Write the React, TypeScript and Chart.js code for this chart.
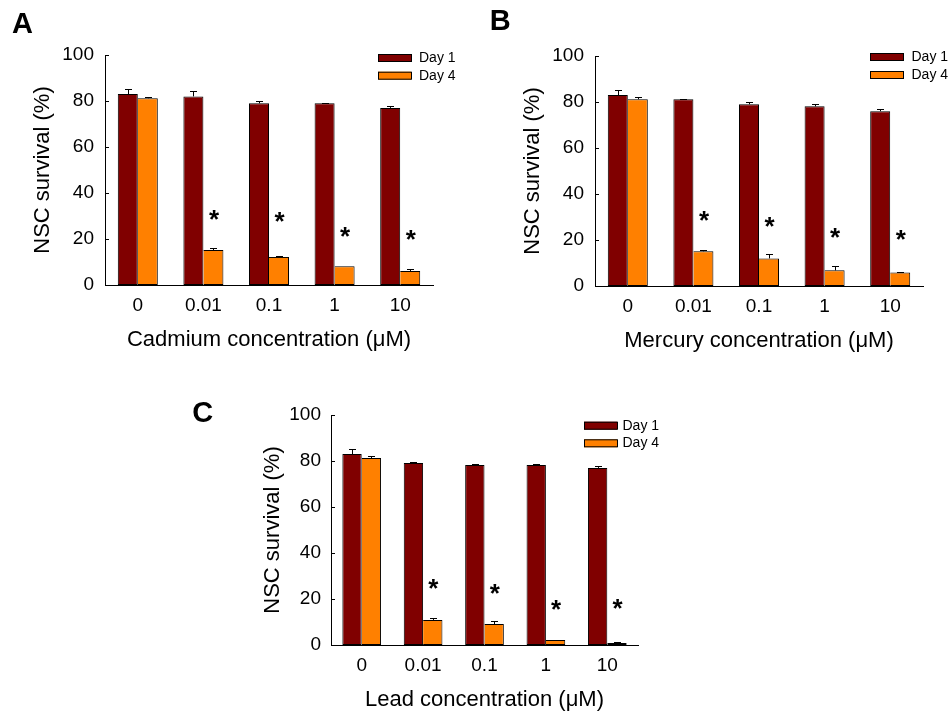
import React, { useEffect, useRef } from 'react';
import { Chart, registerables } from 'chart.js';

Chart.register(...registerables);

// ---------------- Data ----------------
const categories = ['0', '0.01', '0.1', '1', '10'];
const seriesNames = ['Day 1', 'Day 4'];
const yTickValues = [0, 20, 40, 60, 80, 100];
const yAxisTitle = 'NSC survival (%)';

const cadmiumDay1 = [83, 82, 79, 79, 77];
const cadmiumDay1Err = [2.2, 2.3, 0.9, 0.3, 0.8];
const cadmiumDay4 = [81.2, 15.2, 12.2, 8.2, 6.1];
const cadmiumDay4Err = [0.7, 0.9, 0.3, 0, 0.8];
const cadmiumStars = [null, 30.6, 29.7, 23.2, 21.9];

const mercuryDay1 = [83, 81.2, 79, 78.1, 76];
const mercuryDay1Err = [2.2, 0.3, 0.9, 0.9, 0.9];
const mercuryDay4 = [81.2, 15.1, 12, 6.8, 5.9];
const mercuryDay4Err = [0.9, 0.4, 1.9, 1.8, 0.4];
const mercuryStars = [null, 30.4, 28, 22.9, 22.2];

const leadDay1 = [83, 79.1, 78.3, 78.3, 77];
const leadDay1Err = [2.2, 0.3, 0.3, 0.3, 0.8];
const leadDay4 = [81.3, 10.9, 9.1, 2.2, 0.9];
const leadDay4Err = [0.9, 0.8, 1.5, 0, 0.4];
const leadStars = [null, 26.7, 24.3, 17.5, 18.0];

// ---------------- Styles / layout ----------------
const FONT = "Arial, 'Liberation Sans', Helvetica, sans-serif";
const W = 951;
const H = 715;
const DAY1_COLOR = '#800000';
const DAY4_COLOR = '#FF8000';
const Y_W = 80;
const X_H = 70;

type Panel = {
  letter: string;
  letterPos: [number, number];
  xTitle: string;
  day1: number[];
  day1Err: number[];
  day4: number[];
  day4Err: number[];
  stars: (number | null)[];
  area: { l: number; r: number; t: number; b: number };
  yTitleOffset: number;
  yTickPad: number;
  catPct: number;
  legend: { x: number; y: number; textX: number; gap: number };
};

const panels: Panel[] = [
  {
    letter: 'A',
    letterPos: [12, 13],
    xTitle: 'Cadmium concentration (\u03bcM)',
    day1: cadmiumDay1,
    day1Err: cadmiumDay1Err,
    day4: cadmiumDay4,
    day4Err: cadmiumDay4Err,
    stars: cadmiumStars,
    area: { l: 105, r: 433, t: 55, b: 285 },
    yTitleOffset: 62,
    yTickPad: 11,
    catPct: 0.61,
    legend: { x: 378, y: 54, textX: 419, gap: 17.7 },
  },
  {
    letter: 'B',
    letterPos: [490.7, 10],
    xTitle: 'Mercury concentration (\u03bcM)',
    day1: mercuryDay1,
    day1Err: mercuryDay1Err,
    day4: mercuryDay4,
    day4Err: mercuryDay4Err,
    stars: mercuryStars,
    area: { l: 595, r: 923, t: 56, b: 286 },
    yTitleOffset: 62,
    yTickPad: 11,
    catPct: 0.61,
    legend: { x: 870, y: 53, textX: 911.5, gap: 18 },
  },
  {
    letter: 'C',
    letterPos: [193.3, 401.7],
    xTitle: 'Lead concentration (\u03bcM)',
    day1: leadDay1,
    day1Err: leadDay1Err,
    day4: leadDay4,
    day4Err: leadDay4Err,
    stars: leadStars,
    area: { l: 331, r: 638, t: 415, b: 645 },
    yTitleOffset: 58.4,
    yTickPad: 10,
    catPct: 0.63,
    legend: { x: 584, y: 421.7, textX: 622.5, gap: 17.6 },
  },
];

function makePlugin(panel: Panel) {
  return {
    id: 'panelExtras' + panel.letter,
    afterDatasetsDraw(chart: any) {
      const ctx = chart.ctx as CanvasRenderingContext2D;
      const yScale = chart.scales.y;
      ctx.save();
      ctx.strokeStyle = '#000';
      ctx.lineWidth = 1;
      const errs = [panel.day1Err, panel.day4Err];
      const vals = [panel.day1, panel.day4];
      for (let d = 0; d < 2; d++) {
        const meta = chart.getDatasetMeta(d);
        meta.data.forEach((el: any, i: number) => {
          const e = errs[d][i];
          if (!e) return;
          const x = Math.round(el.x) + 0.5;
          const yTop = Math.round(yScale.getPixelForValue(vals[d][i] + e)) + 0.5;
          const yBar = el.y;
          ctx.beginPath();
          ctx.moveTo(x, yBar);
          ctx.lineTo(x, yTop);
          ctx.moveTo(x - 3.5, yTop);
          ctx.lineTo(x + 3.5, yTop);
          ctx.stroke();
        });
      }
      // asterisks above Day 4 bars
      ctx.fillStyle = '#000';
      ctx.font = `bold 26px ${FONT}`;
      ctx.textAlign = 'left';
      ctx.textBaseline = 'alphabetic';
      const m = ctx.measureText('*');
      const meta4 = chart.getDatasetMeta(1);
      panel.stars.forEach((s, i) => {
        if (s == null) return;
        const el: any = meta4.data[i];
        const cx = el.x + 1;
        const cy = yScale.getPixelForValue(s);
        const dx = cx - (m.actualBoundingBoxRight - m.actualBoundingBoxLeft) / 2 + m.actualBoundingBoxLeft;
        const dy = cy + (m.actualBoundingBoxAscent - m.actualBoundingBoxDescent) / 2;
        ctx.fillText('*', dx, dy);
      });
      ctx.restore();
    },
    afterDraw(chart: any) {
      const ctx = chart.ctx as CanvasRenderingContext2D;
      const yScale = chart.scales.y;
      const area = chart.chartArea;
      ctx.save();
      // inward y ticks
      ctx.strokeStyle = '#000';
      ctx.lineWidth = 1;
      yTickValues.forEach((v) => {
        const y = Math.round(yScale.getPixelForValue(v)) + 0.5;
        ctx.beginPath();
        ctx.moveTo(area.left, y);
        ctx.lineTo(area.left + 4, y);
        ctx.stroke();
      });
      // legend
      const lg = panel.legend;
      const colors = [DAY1_COLOR, DAY4_COLOR];
      ctx.font = `14px ${FONT}`;
      ctx.textBaseline = 'middle';
      ctx.textAlign = 'left';
      seriesNames.forEach((name, i) => {
        const top = lg.y + i * lg.gap;
        ctx.fillStyle = colors[i];
        ctx.fillRect(lg.x, top, 33, 8);
        ctx.strokeStyle = '#000';
        ctx.strokeRect(lg.x + 0.5, top + 0.5, 33, 7);
        ctx.fillStyle = '#000';
        ctx.fillText(name, lg.textX, top + 4);
      });
      // panel letter
      ctx.font = `bold 29px ${FONT}`;
      ctx.textBaseline = 'alphabetic';
      const lm = ctx.measureText(panel.letter);
      ctx.fillText(
        panel.letter,
        panel.letterPos[0] + lm.actualBoundingBoxLeft,
        panel.letterPos[1] + lm.actualBoundingBoxAscent
      );
      ctx.restore();
    },
  };
}

function PanelChart({ panel }: { panel: Panel }) {
  const ref = useRef<HTMLCanvasElement>(null);
  useEffect(() => {
    const a = panel.area;
    const chart = new Chart(ref.current as HTMLCanvasElement, {
      type: 'bar',
      data: {
        labels: categories,
        datasets: [
          {
            label: seriesNames[0],
            data: panel.day1,
            backgroundColor: DAY1_COLOR,
            borderColor: '#000',
            borderWidth: 1,
            borderSkipped: false,
            barPercentage: 1,
            categoryPercentage: panel.catPct,
          },
          {
            label: seriesNames[1],
            data: panel.day4,
            backgroundColor: DAY4_COLOR,
            borderColor: '#000',
            borderWidth: { top: 1, right: 1, bottom: 1, left: 0 },
            borderSkipped: false,
            barPercentage: 1,
            categoryPercentage: panel.catPct,
          },
        ],
      },
      options: {
        responsive: false,
        animation: false,
        devicePixelRatio: 1,
        events: [],
        layout: {
          padding: {
            left: a.l - Y_W,
            top: a.t,
            right: W - a.r,
            bottom: H - a.b - X_H,
          },
        },
        plugins: {
          legend: { display: false },
          tooltip: { enabled: false },
          title: { display: false },
        },
        scales: {
          x: {
            type: 'category',
            grid: { display: false, drawTicks: false },
            border: { display: true, color: '#000', width: 1 },
            ticks: {
              color: '#000',
              font: { family: FONT, size: 19 },
              padding: 9,
              maxRotation: 0,
              autoSkip: false,
            },
            title: {
              display: true,
              text: panel.xTitle,
              color: '#000',
              font: { family: FONT, size: 22 },
              padding: { top: 0, bottom: 1.5 },
            },
            afterFit: (s: any) => {
              s.height = X_H;
            },
          },
          y: {
            type: 'linear',
            min: 0,
            max: 100,
            grid: { display: false, drawTicks: false },
            border: { display: true, color: '#000', width: 1 },
            ticks: {
              stepSize: 20,
              color: '#000',
              font: { family: FONT, size: 19 },
              padding: panel.yTickPad,
            },
            title: {
              display: true,
              text: yAxisTitle,
              color: '#000',
              font: { family: FONT, size: 22 },
              padding: { top: Y_W - panel.yTitleOffset - 13.2, bottom: 0 },
            },
            afterFit: (s: any) => {
              s.width = Y_W;
            },
          },
        },
      },
      plugins: [makePlugin(panel)],
    } as any);
    return () => chart.destroy();
  }, [panel]);
  return (
    <canvas
      ref={ref}
      width={W}
      height={H}
      style={{ position: 'absolute', left: 0, top: 0, width: W, height: H }}
    />
  );
}

export default function App() {
  return (
    <div
      style={{
        position: 'fixed',
        left: 0,
        top: 0,
        width: W,
        height: H,
        background: '#ffffff',
        overflow: 'hidden',
      }}
    >
      {panels.map((p) => (
        <PanelChart key={p.letter} panel={p} />
      ))}
    </div>
  );
}
